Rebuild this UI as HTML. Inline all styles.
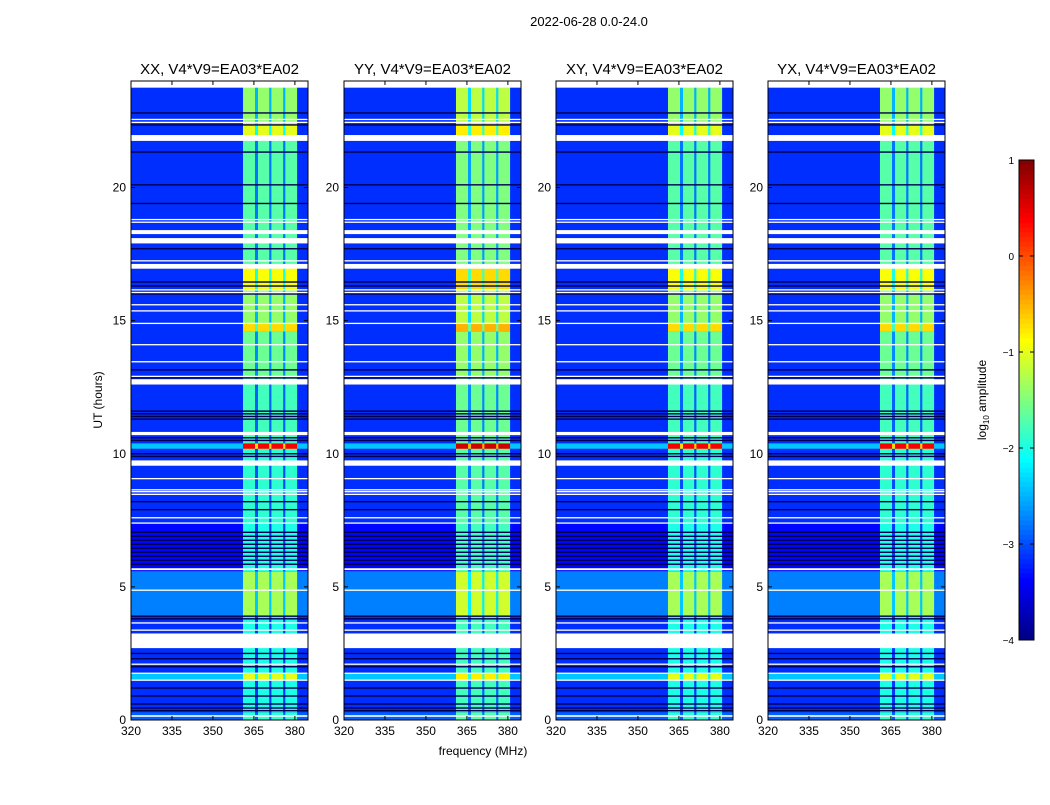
<!DOCTYPE html>
<html><head><meta charset="utf-8"><style>
body{margin:0;background:#fff;width:1050px;height:800px;overflow:hidden;font-family:"Liberation Sans",sans-serif}
svg text{font-family:"Liberation Sans",sans-serif}
</style></head><body>
<svg id="chart" width="1050" height="800" viewBox="0 0 1050 800" xmlns="http://www.w3.org/2000/svg">
<rect width="1050" height="800" fill="#fff"/>
<text x="589" y="26" font-size="13" text-anchor="middle">2022-06-28 0.0-24.0</text>
<text x="483" y="755" font-size="12" text-anchor="middle">frequency (MHz)</text>
<text transform="translate(102,400) rotate(-90)" font-size="12" text-anchor="middle">UT (hours)</text>
<text transform="translate(986,400) rotate(-90)" font-size="12" text-anchor="middle">log<tspan font-size="8" dy="3">10</tspan><tspan dy="-3"> amplitude</tspan></text>
<g id="panels"></g>
<g id="cbar"></g>
</svg>
<script>
const panelNames = ["XX, V4*V9=EA03*EA02","YY, V4*V9=EA03*EA02","XY, V4*V9=EA03*EA02","YX, V4*V9=EA03*EA02"];
const panelRfiBoost = [0, 0.2, 0, 0];
const xTicks = [320,335,350,365,380];
const yTicks = [0,5,10,15,20];
const cbarTicks = [1,0,-1,-2,-3,-4];
const cbarTickLabels = ["1","0","\u22121","\u22122","\u22123","\u22124"];
// time segments: [startHour, endHour, backgroundLog, rfiLog]
const segStart = [0,0.3,1.5,1.75,3.2,3.9,5.6,7.4,9.75,10.2,10.4,12.8,14.6,14.9,16.2,17.13,21.97,22.45];
const segEnd   = [0.3,1.5,1.75,3.2,3.9,5.6,7.4,9.75,10.2,10.4,12.8,14.6,14.9,16.2,17.13,21.97,22.45,24];
const segBg    = [-2.9,-3.15,-2.4,-3.15,-3.15,-2.75,-3.35,-3.15,-3.15,-2.4,-3.15,-3.15,-3.15,-3.15,-3.15,-3.15,-3.15,-3.15];
const segRfi   = [-1.9,-2.0,-1.0,-2.0,-2.0,-1.3,-2.0,-1.9,-1.9,0.4,-1.8,-1.6,-0.7,-1.4,-0.9,-1.7,-1.0,-1.4];
// RFI frequency columns (MHz)
const colStart = [361,366.5,371.4,376.5];
const colEnd   = [365.4,370.6,375.7,380.8];
const gapLevelOffset = 1.1;
// flagged (white) rows
const flagStart = [0.12,1.48,1.74,2.08,2.7,3.35,3.62,4.85,5.63,7.38,7.58,8.45,8.55,8.62,9.05,9.55,10.7,12.6,12.9,13.43,14.08,14.88,15.35,15.58,16.05,16.15,16.95,17.23,17.9,18.25,18.68,18.78,21.75,22.44,22.55,23.75];
const flagEnd   = [0.18,1.52,1.78,2.12,3.25,3.4,3.67,4.9,5.7,7.42,7.62,8.5,8.6,8.67,9.09,9.75,10.82,12.8,12.93,13.48,14.12,14.92,15.39,15.62,16.08,16.18,17.13,17.27,18.1,18.4,18.72,18.82,21.97,22.47,22.58,24];
// dark (near-zero) rows
const darkRows = [0.35,0.45,0.6,0.9,1.2,2.0,2.3,2.5,3.8,3.9,5.85,6.0,6.15,6.3,6.45,6.6,6.75,6.9,7.05,7.9,8.2,9.9,10.0,10.5,10.6,11.3,11.4,11.5,11.6,12.85,13.15,16.0,16.3,16.45,17.7,19.4,20.1,21.33,22.35,22.8];

const NS="http://www.w3.org/2000/svg";
const panelX=[131,344,556,768], PW=177, PT=81, PB=720;
const fMin=320, fMax=384.8, tMin=0, tMax=24;
function jet(v){const t=Math.max(0,Math.min(1,(v+4)/5));
 const c=x=>Math.round(255*Math.max(0,Math.min(1,1.5-Math.abs(x))));
 return `rgb(${c(4*t-3)},${c(4*t-2)},${c(4*t-1)})`;}
function mk(tag,attrs,parent){const e=document.createElementNS(NS,tag);for(const k in attrs)e.setAttribute(k,attrs[k]);parent.appendChild(e);return e;}
const root=document.getElementById('panels');
panelX.forEach((px,pi)=>{
 const xs=f=>px+(f-fMin)/(fMax-fMin)*PW;
 const ys=h=>PB-(h-tMin)/(tMax-tMin)*(PB-PT);
 const g=mk('g',{},root);
 
 
 for(let i=0;i<segStart.length;i++){
  const y0=ys(segEnd[i]), y1=ys(segStart[i]);
  const r=mk('rect',{x:px,y:y0,width:PW,height:y1-y0+0.3,fill:jet(segBg[i])},g);
  
  
  const rv=segRfi[i]+panelRfiBoost[pi];
  const gap=mk('rect',{x:xs(colStart[0]),y:y0,width:xs(colEnd[colEnd.length-1])-xs(colStart[0]),height:y1-y0+0.3,fill:jet(Math.max(segBg[i],rv-gapLevelOffset))},g);
  
  
  for(let c=0;c<colStart.length;c++){
   const cr=mk('rect',{x:xs(colStart[c]),y:y0,width:xs(colEnd[c])-xs(colStart[c]),height:y1-y0+0.3,fill:jet(rv)},g);
   
   
  }
 }
 darkRows.forEach(h=>{const d=mk('rect',{x:px,y:ys(h)-0.7,width:PW,height:1.4,fill:'#000050'},g);
  
  });
 for(let i=0;i<flagStart.length;i++){const y0=ys(flagEnd[i]),y1=ys(flagStart[i]);
  const w=mk('rect',{x:px,y:y0,width:PW,height:Math.max(1.3,y1-y0),fill:'#fff'},g);
  
  }
 const fr=mk('rect',{x:px,y:PT,width:PW,height:PB-PT,fill:'none',stroke:'#000','stroke-width':1},g);
 
 
 const tt=mk('text',{x:px+PW/2,y:74,'font-size':15,'text-anchor':'middle'},g);
 tt.textContent=panelNames[pi];
 
 
 xTicks.forEach(f=>{const x=xs(f);
  mk('line',{x1:x,x2:x,y1:PB,y2:PB-4,stroke:'#000'},g);mk('line',{x1:x,x2:x,y1:PT,y2:PT+4,stroke:'#000'},g);
  const t=mk('text',{x:x,y:PB+15,'font-size':12,'text-anchor':'middle'},g);t.textContent=f;
  
  });
 yTicks.forEach(h=>{const y=ys(h);
  mk('line',{x1:px,x2:px+4,y1:y,y2:y,stroke:'#000'},g);mk('line',{x1:px+PW,x2:px+PW-4,y1:y,y2:y,stroke:'#000'},g);
  const t=mk('text',{x:px-5,y:y+4,'font-size':12,'text-anchor':'end'},g);t.textContent=h;
  
  });
});
// colorbar
const cb=document.getElementById('cbar');
const cx=1019,cw=15,cT=160,cB=640;
const cys=v=>cB-(v+4)/5*(cB-cT);
for(let i=0;i<100;i++){const v0=-4+i*0.05;
 const r=mk('rect',{x:cx,y:cys(v0+0.05),width:cw,height:(cB-cT)/100+0.5,fill:jet(v0+0.025)},cb);
 
 }
const cf=mk('rect',{x:cx,y:cT,width:cw,height:cB-cT,fill:'none',stroke:'#000'},cb);


cbarTicks.forEach((v,i)=>{const y=cys(v);
 mk('line',{x1:cx,x2:cx+4,y1:y,y2:y,stroke:'#000'},cb);mk('line',{x1:cx+cw,x2:cx+cw-4,y1:y,y2:y,stroke:'#000'},cb);
 const t=mk('text',{x:cx-5,y:y+4,'font-size':10,'text-anchor':'end'},cb);t.textContent=cbarTickLabels[i];
 
 });
</script>
</body></html>
